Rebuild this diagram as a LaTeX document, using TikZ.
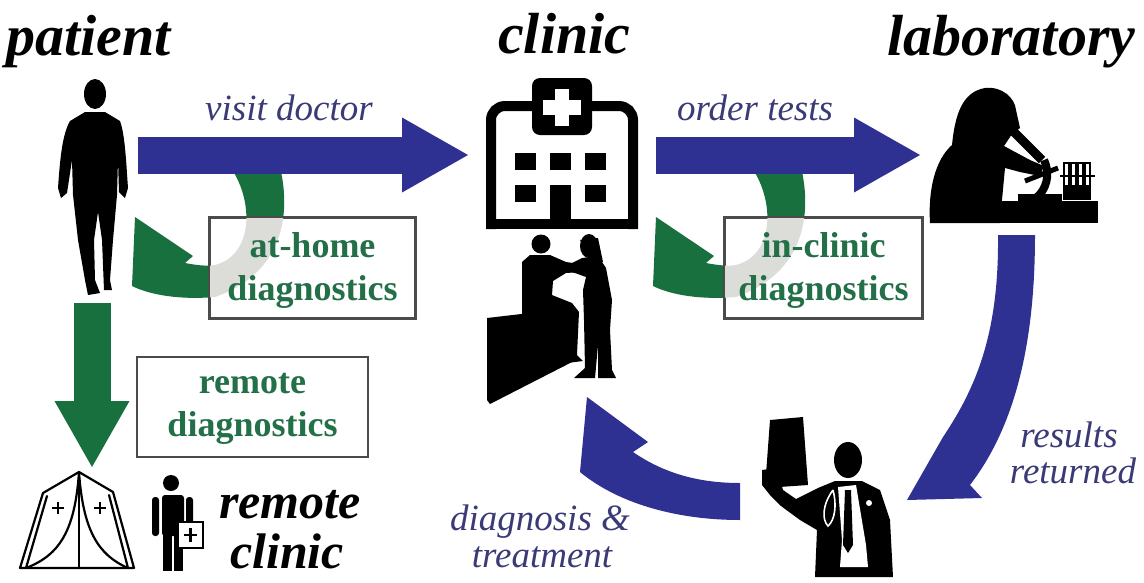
\documentclass[tikz,border=0pt]{standalone}
\usepackage{fontspec}
\setmainfont{Liberation Serif}
\usetikzlibrary{arrows.meta}
\definecolor{flowblue}{RGB}{46,49,146}
\definecolor{diaggreen}{RGB}{24,112,62}
\definecolor{diagtext}{RGB}{35,112,72}
\definecolor{labelblue}{RGB}{58,58,118}
\definecolor{boxline}{RGB}{75,75,75}
\definecolor{ghost}{RGB}{220,220,216}

\tikzset{
  headline/.style={inner sep=0pt, font=\fontsize{58}{62}\selectfont\bfseries\itshape},
  placename/.style={inner sep=0pt, font=\fontsize{50}{54}\selectfont\bfseries\itshape},
  flowlabel/.style={inner sep=0pt, text=labelblue, font=\fontsize{37}{40}\selectfont\itshape},
  boxlabel/.style={inner sep=0pt, text=diagtext, align=center, font=\fontsize{36}{43}\selectfont\bfseries},
  diagframe/.style={draw=boxline, line width=2pt, fill=white, inner sep=0pt, minimum height=100pt},
  bigarrow/.style={line width=37pt, -{Triangle[length=66pt,width=75pt,line width=0pt]}},
  bluearrow/.style={bigarrow, draw=flowblue},
  greenarrow/.style={bigarrow, draw=diaggreen},
  bldg/.style={line width=10pt},
  tentline/.style={line width=2.2pt, line join=round, line cap=round},
}

% U-turn arrow that leaves the main flow and comes back to its source
\def\uturn{(225,160) -- (278,160) .. controls (290,200) and (292,270) .. (215,297)
  .. controls (180,300) and (150,295) .. (132,286) -- (135,217) -- (193,256) -- (185,263)
  .. controls (200,266) and (210,266) .. (215,265) .. controls (255,255) and (255,195) .. (225,160) -- cycle}

\begin{document}
\begin{tikzpicture}[x=1pt,y=-1pt]
\useasboundingbox (0,0) rectangle (1144,582);

% ---------- headings ----------
\node[headline, anchor=base west] (tpatient) at (6,55) {patient};
\node[headline, anchor=base west] (tclinic) at (498,53) {clinic};
\node[headline, anchor=base west] (tlab) at (887,55) {laboratory};

% ---------- patient ----------
\fill (95,94) ellipse [x radius=11, y radius=15];
\fill (85,112) -- (105,112) -- (120,121) .. controls (125,135) and (126,160) .. (128,188)
  -- (125,198) -- (119,192) -- (118,160) -- (117,195) -- (113,240) -- (110,280) -- (112,290)
  -- (104,290) -- (102,240) -- (98,212) -- (94,240) -- (95,280) -- (100,293) -- (88,295)
  -- (85,280) -- (78,240) -- (73,195) -- (72,160) -- (67,193) -- (61,198) -- (58,188)
  .. controls (60,160) and (62,135) .. (70,121) -- cycle;
\coordinate (patient) at (95,190);

% ---------- clinic building ----------
\draw[bldg, rounded corners=14pt] (534,106) -- (491,106) -- (491,229);
\draw[bldg, rounded corners=14pt] (590,106) -- (633,106) -- (633,229);
\draw[bldg] (486,224) -- (638,224);
\fill[rounded corners=8pt] (532,78) rectangle (592,135);
\fill[white] (543,100) rectangle (581,115);
\fill[white] (555,89) rectangle (569,126);
\foreach \x in {515,550,585} \fill (\x,153) rectangle ++(21,17);
\fill (515,185) rectangle ++(21,17);
\fill (585,185) rectangle ++(21,17);
\fill (550,185) rectangle (571,224);
\coordinate (clinic) at (562,150);

% ---------- doctor and patient in the clinic ----------
\fill (487,318) -- (573,308) -- (576,360) -- (490,404) -- (487,400) -- cycle;
\fill (541,244) circle (9.5);
\fill (522,262) -- (530,255) -- (550,255) -- (566,262) -- (580,264) -- (582,272) -- (566,273)
  -- (553,281) -- (552,295) -- (572,303) -- (579,312) -- (577,355) -- (583,361) -- (567,363)
  -- (566,318) -- (522,318) -- cycle;
\fill (589,246) ellipse [x radius=9, y radius=12];
\fill (580,240) -- (598,238) -- (603,262) -- (594,262) -- cycle;
\fill (582,258) -- (598,256) -- (606,268) -- (612,300) -- (610,330) -- (612,370) -- (616,378)
  -- (598,378) -- (598,345) -- (595,378) -- (574,378) -- (585,368) -- (584,320) -- (583,290)
  -- (586,277) -- (575,273) -- (566,270) -- (570,264) -- cycle;

% ---------- laboratory ----------
\fill (985,88) .. controls (1002,86) and (1015,98) .. (1016,110) -- (1020,128) -- (1012,134)
  -- (1004,146) -- (1030,160) -- (1044,166) -- (1040,176) -- (1020,172) -- (1005,168)
  -- (1002,200) -- (1000,223) -- (930,223) .. controls (928,190) and (935,160) .. (952,145)
  .. controls (955,115) and (962,92) .. (985,88) -- cycle;
\draw[line width=9pt] (1006,124) -- (1042,160);
\draw[line width=5pt] (1025,181) -- (1058,168);
\draw[line width=8pt] (1044,160) .. controls (1051,175) and (1046,190) .. (1036,198);
\fill (1018,194) rectangle (1062,202);
\fill (1000,201) rectangle (1098,223);
\foreach \i in {0,1,2,3} {
  \draw[line width=1.3pt] (1064+7*\i,163) rectangle (1069+7*\i,199);
  \fill (1064+7*\i,185) rectangle (1069+7*\i,199);
}
\draw[line width=2pt] (1060,176) -- (1095,176);
\coordinate (lab) at (1015,160);

% ---------- physician reading an X-ray ----------
\fill (770,420) -- (803,417) -- (808,485) -- (765,488) -- cycle;
\fill (848,460) ellipse [x radius=14, y radius=18];
\fill (762,470) -- (776,468) -- (783,490) -- (796,499) -- (818,488) -- (835,481) -- (862,481)
  -- (880,490) -- (890,520) -- (893,577) -- (815,577) -- (817,530) -- (800,520) -- (781,506)
  -- (770,495) -- (762,485) -- cycle;
\fill[white] (838,487) -- (856,485) -- (866,545) -- (868,567) -- (840,567) -- (842,540) -- cycle;
\fill (845,490) -- (851,490) -- (853,545) -- (848,553) -- (843,545) -- cycle;
\draw[white, line width=1.6pt] (833,490) .. controls (822,505) and (822,520) .. (828,526)
  .. controls (835,520) and (837,505) .. (833,490);
\fill[white] (869,503) circle (3);
\coordinate (physician) at (830,520);

% ---------- remote clinic: tent and carer ----------
\draw[tentline] (20,568) -- (43,493) -- (79,472) -- (113,492) -- (134,568) -- cycle;
\draw[tentline] (26,568) -- (47,496);
\draw[tentline] (128,568) -- (109,495);
\draw[tentline] (79,472) -- (79,568);
\draw[tentline] (79,472) .. controls (75,530) and (60,555) .. (26,568);
\draw[tentline] (79,472) .. controls (83,530) and (98,555) .. (128,568);
\draw[line width=2pt] (52,508) -- (64,508) (58,502) -- (58,514);
\draw[line width=2pt] (94,508) -- (106,508) (100,502) -- (100,514);
\fill (171,483) circle (8);
\fill[rounded corners=3pt] (152,497) rectangle (159,536);
\fill[rounded corners=3pt] (162,495) rectangle (184,536);
\fill[rounded corners=3pt] (186,497) rectangle (193,526);
\fill (163,534) rectangle (172,571);
\fill (174,534) rectangle (183,571);
\draw[line width=2pt, fill=white] (178,522) rectangle (203,548);
\draw[line width=2.5pt] (184,535) -- (197,535) (190.5,528) -- (190.5,542);
\coordinate (remote) at (92,470);
\node[placename, anchor=base] (tremote) at (290,518) {remote};
\node[placename, anchor=base] (tremclinic) at (287,568) {clinic};

% ---------- diagnostic shortcuts (green) ----------
\fill[diaggreen] \uturn;
\begin{scope}[shift={(521,0)}]
  \fill[diaggreen] \uturn;
\end{scope}
\coordinate (rd-start) at (92,303);
\coordinate (rd-end) at (92,467);
\draw[greenarrow] (rd-start) -- (rd-end);

% ---------- main care pathway (blue) ----------
\coordinate (vd-start) at (138,155);
\coordinate (vd-end) at (468,155);
\coordinate (ot-start) at (656,155);
\coordinate (ot-end) at (920,155);
\draw[bluearrow] (vd-start) -- (vd-end);
\draw[bluearrow] (ot-start) -- (ot-end);

% results returned
\coordinate (rr-tip) at (907,500);
\fill[flowblue] (998,235) -- (1035,235) .. controls (1035,330) and (1020,420) .. (970,485)
  -- (982,498) -- (rr-tip) -- (943,437) .. controls (978,385) and (999,330) .. (998,235) -- cycle;
% diagnosis and treatment
\coordinate (dt-tip) at (587,397);
\fill[flowblue] (dt-tip) -- (648,442) -- (633,452) .. controls (665,474) and (700,483) .. (740,483)
  -- (740,520) .. controls (680,520) and (620,505) .. (580,472) -- cycle;

% ---------- boxes ----------
\node[diagframe, minimum width=205pt] (homebox) at (312.5,268) {};
\node[diagframe, minimum width=197pt] (clinicbox) at (823.5,268) {};
\node[diagframe, minimum width=231pt] (remotebox) at (252.5,407) {};
\begin{scope}
  \clip (homebox.south west) rectangle (homebox.north east);
  \fill[ghost] \uturn;
\end{scope}
\begin{scope}
  \clip (clinicbox.south west) rectangle (clinicbox.north east);
  \fill[ghost, shift={(521,0)}] \uturn;
\end{scope}
\draw[boxline, line width=2pt] (homebox.south west) rectangle (homebox.north east);
\draw[boxline, line width=2pt] (clinicbox.south west) rectangle (clinicbox.north east);
\node[boxlabel] (homelabel) at (312.5,270) {at-home\\diagnostics};
\node[boxlabel] (cliniclabel) at (823.5,270) {in-clinic\\diagnostics};
\node[boxlabel] (remotelabel) at (252.5,409) {remote\\diagnostics};

% ---------- pathway labels ----------
\node[flowlabel, anchor=base west] (lvisit) at (205,120) {visit doctor};
\node[flowlabel, anchor=base west] (lorder) at (677,120) {order tests};
\node[flowlabel, anchor=base] (lres1) at (1069,447) {results};
\node[flowlabel, anchor=base] (lres2) at (1073,483) {returned};
\node[flowlabel, anchor=base] (ldia1) at (540,530) {diagnosis \&};
\node[flowlabel, anchor=base] (ldia2) at (542,567) {treatment};
\end{tikzpicture}
\end{document}
